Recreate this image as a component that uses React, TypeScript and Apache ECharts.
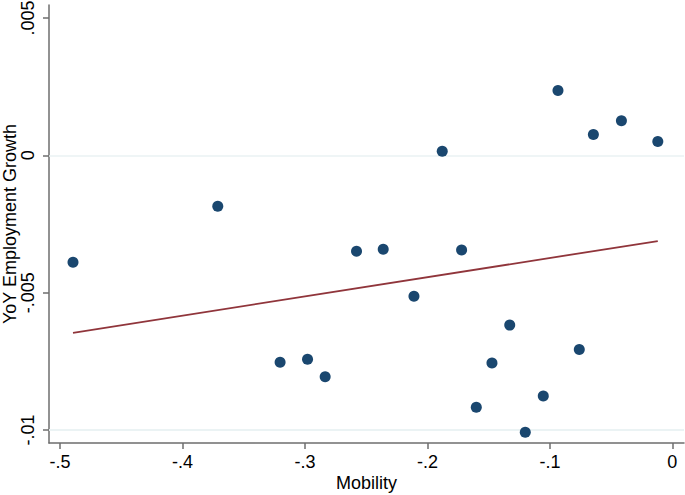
import React, { useEffect, useRef } from "react";
import * as echarts from "echarts";

const mobility = [
  -0.4894, -0.3712, -0.3203, -0.2979, -0.2835, -0.2579, -0.2361, -0.211,
  -0.1879, -0.1721, -0.1601, -0.1473, -0.1328, -0.1201, -0.1054, -0.0934,
  -0.076, -0.0645, -0.0416, -0.0119,
];
const growth = [
  -0.00389, -0.00185, -0.00753, -0.00742, -0.00806, -0.00349, -0.00342, -0.00513,
  0.000145, -0.00345, -0.00917, -0.00756, -0.00618, -0.01008, -0.00876, 0.00236,
  -0.00707, 0.00076, 0.00126, 0.0005,
];
const fitMobility = [-0.4894, -0.0119];
const fitGrowth = [-0.00646, -0.00312];
const xTicks = [-0.5, -0.4, -0.3, -0.2, -0.1, 0];
const yTicks = [-0.01, -0.005, 0, 0.005];

function fmt(v: number): string {
  if (Math.abs(v) < 1e-12) return "0";
  const s = String(+v.toFixed(4));
  return s.replace("0.", ".");
}

const FONT = "Liberation Sans, Arial, sans-serif";

export default function App() {
  const ref = useRef<HTMLDivElement>(null);
  useEffect(() => {
    if (!ref.current) return;
    const chart = echarts.init(ref.current, undefined, { renderer: "svg" });
    chart.setOption({
      animation: false,
      backgroundColor: "#ffffff",
      grid: {
        left: 49,
        right: 1,
        top: 5,
        bottom: 52,
        containLabel: false,
        outerBoundsMode: "none",
      },
      xAxis: {
        type: "value",
        min: -0.509,
        max: 0.0095,
        name: "Mobility",
        nameLocation: "middle",
        nameGap: 31,
        nameMoveOverlap: false,
        nameTextStyle: { color: "#000", fontSize: 18, fontFamily: FONT },
        axisLine: { show: true, onZero: false, lineStyle: { color: "#6e6e6e", width: 1.5 } },
        axisTick: { show: true, length: 6, customValues: xTicks, lineStyle: { color: "#6e6e6e", width: 1.5 } },
        axisLabel: {
          customValues: xTicks,
          formatter: (v: number) => fmt(v),
          color: "#000",
          fontSize: 18,
          fontFamily: FONT,
          margin: 10,
        },
        splitLine: { show: false },
      },
      yAxis: {
        type: "value",
        min: -0.01047,
        max: 0.00547,
        name: "YoY Employment Growth",
        nameLocation: "middle",
        nameGap: 30,
        nameMoveOverlap: false,
        nameTextStyle: { color: "#000", fontSize: 18, fontFamily: FONT },
        axisLine: { show: true, onZero: false, lineStyle: { color: "#6e6e6e", width: 1.5 } },
        axisTick: { show: true, length: 6, customValues: yTicks, lineStyle: { color: "#6e6e6e", width: 1.5 } },
        axisLabel: {
          customValues: yTicks,
          rotate: 90,
          formatter: (v: number) => fmt(v),
          color: "#000",
          fontSize: 18,
          fontFamily: FONT,
          margin: 12,
        },
        splitLine: { show: false },
      },
      series: [
        {
          type: "scatter",
          data: mobility.map((x, i) => [x, growth[i]]),
          symbol: "circle",
          symbolSize: 11,
          itemStyle: { color: "#1a476f", opacity: 1 },
          z: 3,
          markLine: {
            silent: true,
            symbol: "none",
            label: { show: false },
            lineStyle: { color: "#eaf2f3", width: 1.5, type: "solid" },
            emphasis: { disabled: true },
            data: yTicks.map((v) => ({ yAxis: v })),
            z: 1,
          },
        },
        {
          type: "line",
          data: fitMobility.map((x, i) => [x, fitGrowth[i]]),
          showSymbol: false,
          symbol: "none",
          lineStyle: { color: "#90353b", width: 1.8 },
          z: 2,
        },
      ],
    });
    return () => chart.dispose();
  }, []);
  return (
    <div
      ref={ref}
      style={{ position: "fixed", left: 0, top: 0, width: 685, height: 495 }}
    />
  );
}
